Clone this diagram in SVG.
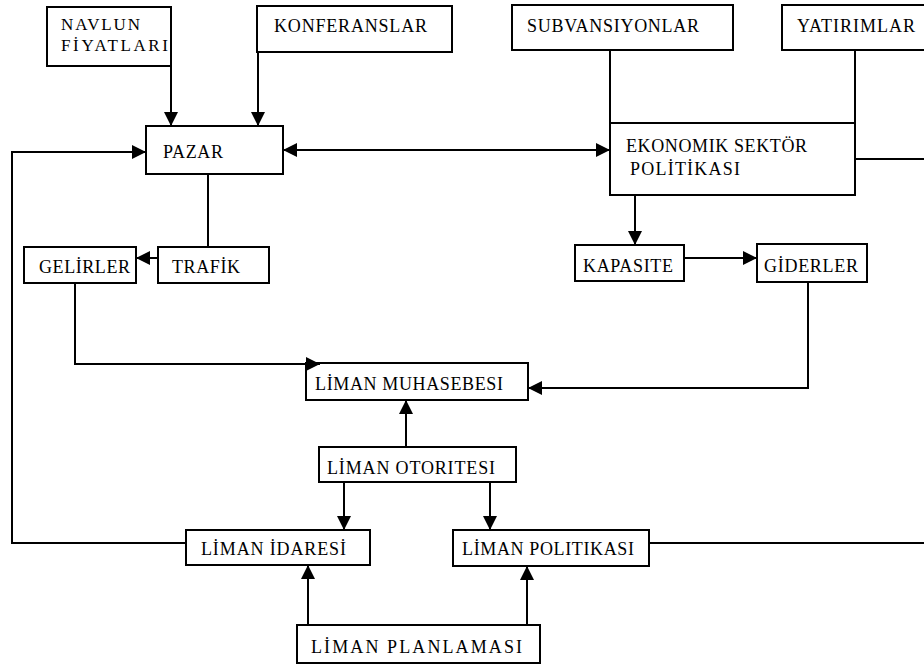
<svg xmlns="http://www.w3.org/2000/svg" width="924" height="666" viewBox="0 0 924 666">
  <style>
    .box { fill: #ffffff; stroke: #000000; stroke-width: 2; }
    .lbl { font-family: "Liberation Serif", "Times New Roman", serif; font-size: 18px; fill: #000000; }
    .sm { font-size: 17px; }
    .wire { fill: none; stroke: #000000; stroke-width: 2; }
    .arr { marker-end: url(#head); }
  </style>
  <defs>
    <marker id="head" viewBox="0 0 14 14" refX="14" refY="7" markerWidth="14" markerHeight="14" markerUnits="userSpaceOnUse" orient="auto-start-reverse">
      <path d="M0 0 L14 7 L0 14 Z" fill="#000000"/>
    </marker>
  </defs>
  <rect width="924" height="666" fill="#ffffff"/>

  <!-- nodes -->
  <g id="navlun">
    <rect class="box" x="47" y="7" width="124" height="59"/>
    <text class="lbl sm" x="61" y="30" textLength="79" lengthAdjust="spacing">NAVLUN</text>
    <text class="lbl sm" x="61" y="51" textLength="107" lengthAdjust="spacing">FİYATLARI</text>
  </g>
  <g id="konferanslar">
    <rect class="box" x="257" y="6" width="195" height="46"/>
    <text class="lbl" x="274" y="32" textLength="153" lengthAdjust="spacing">KONFERANSLAR</text>
  </g>
  <g id="pazar">
    <rect class="box" x="146" y="126" width="137" height="48"/>
    <text class="lbl" x="163" y="158" textLength="60" lengthAdjust="spacing">PAZAR</text>
  </g>
  <g id="subvansiyonlar">
    <rect class="box" x="512" y="5" width="221" height="45"/>
    <text class="lbl" x="527" y="32" textLength="172" lengthAdjust="spacing">SUBVANSIYONLAR</text>
  </g>
  <g id="yatirimlar">
    <rect class="box" x="782" y="5" width="150" height="45"/>
    <text class="lbl" x="797" y="32" textLength="118" lengthAdjust="spacing">YATIRIMLAR</text>
  </g>
  <g id="ekonomik-sektor">
    <rect class="box" x="610" y="123" width="245" height="72"/>
    <text class="lbl" x="626" y="152" textLength="181" lengthAdjust="spacing">EKONOMIK SEKTÖR</text>
    <text class="lbl" x="630" y="175" textLength="110" lengthAdjust="spacing">POLİTİKASI</text>
  </g>
  <g id="gelirler">
    <rect class="box" x="24" y="247" width="112" height="36"/>
    <text class="lbl" x="39" y="273" textLength="91" lengthAdjust="spacing">GELİRLER</text>
  </g>
  <g id="trafik">
    <rect class="box" x="158" y="247" width="111" height="36"/>
    <text class="lbl" x="172" y="273" textLength="68" lengthAdjust="spacing">TRAFİK</text>
  </g>
  <g id="kapasite">
    <rect class="box" x="575" y="245" width="109" height="36"/>
    <text class="lbl" x="583" y="272" textLength="90" lengthAdjust="spacing">KAPASITE</text>
  </g>
  <g id="giderler">
    <rect class="box" x="757" y="244" width="110" height="38"/>
    <text class="lbl" x="764" y="272" textLength="94" lengthAdjust="spacing">GİDERLER</text>
  </g>
  <g id="liman-muhasebesi">
    <rect class="box" x="306" y="363" width="222" height="37"/>
    <text class="lbl" x="315" y="390" textLength="188" lengthAdjust="spacing">LİMAN MUHASEBESI</text>
  </g>
  <g id="liman-otoritesi">
    <rect class="box" x="319" y="447" width="197" height="35"/>
    <text class="lbl" x="327" y="474" textLength="168" lengthAdjust="spacing">LİMAN OTORITESI</text>
  </g>
  <g id="liman-idaresi">
    <rect class="box" x="186" y="530" width="184" height="35"/>
    <text class="lbl" x="201" y="555" textLength="145" lengthAdjust="spacing">LİMAN İDARESİ</text>
  </g>
  <g id="liman-politikasi">
    <rect class="box" x="453" y="530" width="196" height="36"/>
    <text class="lbl" x="462" y="555" textLength="172" lengthAdjust="spacing">LİMAN POLITIKASI</text>
  </g>
  <g id="liman-planlamasi">
    <rect class="box" x="297" y="625" width="243" height="38"/>
    <text class="lbl" x="311" y="653" textLength="211" lengthAdjust="spacing">LİMAN PLANLAMASI</text>
  </g>

  <!-- connectors, drawn above the boxes so heads on edges stay visible -->
  <g id="connectors">
    <path class="wire arr" d="M171 66 V126"/>
    <path class="wire arr" d="M258 52 V126"/>
    <path class="wire arr" d="M186 543 H12 V152 H146"/>
    <path class="wire arr" d="M283 150 H610" marker-start="url(#head)"/>
    <path class="wire" d="M610 50 V123"/>
    <path class="wire" d="M855 50 V123"/>
    <path class="wire" d="M855 159 H924"/>
    <path class="wire" d="M208 174 V247"/>
    <path class="wire arr" d="M158 258 H136"/>
    <path class="wire arr" d="M635 195 V245"/>
    <path class="wire arr" d="M684 258 H757"/>
    <path class="wire arr" d="M75 283 V364 H320"/>
    <path class="wire arr" d="M808 282 V388 H528"/>
    <path class="wire arr" d="M406 447 V400"/>
    <path class="wire arr" d="M344 482 V530"/>
    <path class="wire arr" d="M490 482 V530"/>
    <path class="wire arr" d="M308 625 V565"/>
    <path class="wire arr" d="M527 625 V566"/>
    <path class="wire" d="M649 543 H924"/>
  </g>
</svg>
